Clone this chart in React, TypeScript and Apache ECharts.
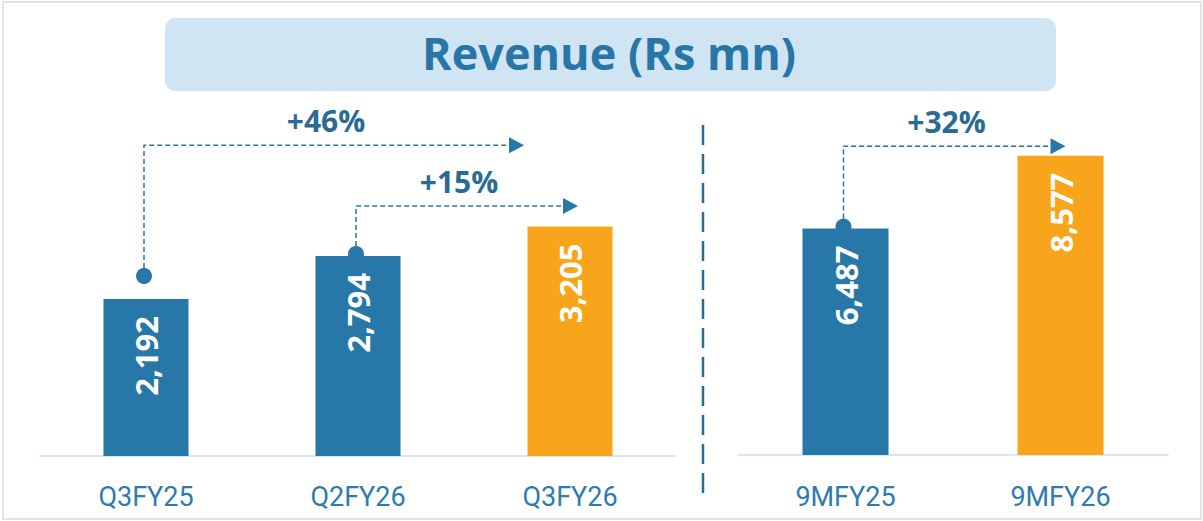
import React, { useEffect, useRef } from "react";
import * as echarts from "echarts";

const categoriesLeft = ["Q3FY25", "Q2FY26", "Q3FY26"];
const valuesLeft = [2192, 2794, 3205];
const categoriesRight = ["9MFY25", "9MFY26"];
const valuesRight = [6487, 8577];
const titleText = "Revenue (Rs mn)";
// growth annotations: grid index, from bar, to bar, label, level of the horizontal arrow (data units)
const growthLabels = ["+46%", "+15%", "+32%"];
const growthGrid = [0, 0, 1];
const growthFrom = [0, 1, 0];
const growthTo = [2, 2, 1];
const growthLevel = [4340, 3490, 8850];

const BLUE = "#2777a9";
const ORANGE = "#f8a51b";
const DARK = "#2a6b94";
const TITLE = "#2875a7";
const AXIS_TXT = "#2e7bb0";
const FONT = "'Open Sans', sans-serif";

// per annotation visual tweaks
const dotLift = [23, 2, 2];
const tipOffset = [-46, 8, 5];

export default function App() {
  const ref = useRef<HTMLDivElement>(null);
  useEffect(() => {
    if (!ref.current) return;
    const chart = echarts.init(ref.current, undefined, { renderer: "svg" });
    const colorsLeft = [BLUE, BLUE, ORANGE];
    const colorsRight = [BLUE, ORANGE];
    const label = {
      show: true,
      position: "insideTop",
      rotate: 90,
      align: "right",
      verticalAlign: "middle",
      distance: 17,
      color: "#ffffff",
      fontFamily: FONT,
      fontWeight: "bold",
      fontSize: 31,
      formatter: (p: any) => Number(p.value).toLocaleString("en-US"),
    };
    const xAxisCommon = (data: string[], idx: number, margin: number) => ({
      type: "category",
      gridIndex: idx,
      data,
      axisTick: { show: false },
      axisLine: { show: true, lineStyle: { color: "#d6e8f5", width: 2 } },
      axisLabel: {
        color: AXIS_TXT,
        fontFamily: "Roboto, sans-serif",
        fontSize: 27,
        margin,
      },
    });
    chart.setOption({
      animation: false,
      grid: [
        { left: 40, width: 636, top: 98, height: 358 },
        { left: 738, width: 430, top: 106, height: 349 },
      ],
      xAxis: [xAxisCommon(categoriesLeft, 0, 27), xAxisCommon(categoriesRight, 1, 28)],
      yAxis: [
        { type: "value", gridIndex: 0, min: 0, max: 5000, show: false },
        { type: "value", gridIndex: 1, min: 0, max: 10000, show: false },
      ],
      series: [
        {
          type: "bar",
          xAxisIndex: 0,
          yAxisIndex: 0,
          barWidth: 85,
          data: valuesLeft.map((v, i) => ({ value: v, itemStyle: { color: colorsLeft[i] } })),
          label,
        },
        {
          type: "bar",
          xAxisIndex: 1,
          yAxisIndex: 1,
          barWidth: 86,
          data: valuesRight.map((v, i) => ({ value: v, itemStyle: { color: colorsRight[i] } })),
          label,
        },
      ],
    });

    const graphics: any[] = [
      {
        type: "rect",
        shape: { x: 3, y: 2, width: 1198, height: 517 },
        style: { fill: "none", stroke: "#e4e4e4", lineWidth: 2 },
        silent: true,
      },
      {
        type: "rect",
        shape: { x: 165, y: 18, width: 891, height: 73, r: 10 },
        style: { fill: "#cfe5f3" },
      },
      {
        type: "text",
        style: {
          text: titleText,
          x: 609,
          y: 52,
          align: "center",
          verticalAlign: "middle",
          fill: TITLE,
          fontFamily: FONT,
          fontWeight: "bold",
          fontSize: 45,
        },
      },
      {
        type: "line",
        shape: { x1: 703, y1: 125, x2: 703, y2: 497 },
        style: { stroke: DARK, lineWidth: 2.5, lineDash: [20, 9] },
      },
    ];

    const values = [valuesLeft, valuesRight];
    growthLabels.forEach((txt, k) => {
      const g = growthGrid[k];
      const finder = { xAxisIndex: g, yAxisIndex: g };
      const a = chart.convertToPixel(finder as any, [growthFrom[k], values[g][growthFrom[k]]]) as number[];
      const b = chart.convertToPixel(finder as any, [growthTo[k], values[g][growthTo[k]]]) as number[];
      const lvl = chart.convertToPixel(finder as any, [growthFrom[k], growthLevel[k]]) as number[];
      const dx = a[0] - 2;
      const dy = a[1] - dotLift[k];
      const ly = lvl[1];
      const tip = b[0] + tipOffset[k];
      const lineEnd = tip - 15;
      graphics.push({
        type: "polyline",
        shape: { points: [[dx, dy], [dx, ly], [lineEnd, ly]] },
        style: { stroke: BLUE, lineWidth: 1.5, lineDash: [5, 3], fill: "none" },
      });
      graphics.push({
        type: "polygon",
        shape: { points: [[lineEnd, ly - 8], [tip, ly], [lineEnd, ly + 8]] },
        style: { fill: BLUE },
      });
      graphics.push({
        type: "circle",
        shape: { cx: dx, cy: dy, r: 8 },
        style: { fill: BLUE },
      });
      graphics.push({
        type: "text",
        style: {
          text: txt,
          x: (dx + tip) / 2 - 8,
          y: ly - 25,
          align: "center",
          verticalAlign: "middle",
          fill: DARK,
          fontFamily: FONT,
          fontWeight: "bold",
          fontSize: 30,
        },
      });
    });
    chart.setOption({ graphic: graphics });

    return () => chart.dispose();
  }, []);
  return (
    <div
      ref={ref}
      style={{ position: "fixed", left: 0, top: 0, width: 1203, height: 521, background: "#ffffff" }}
    />
  );
}
